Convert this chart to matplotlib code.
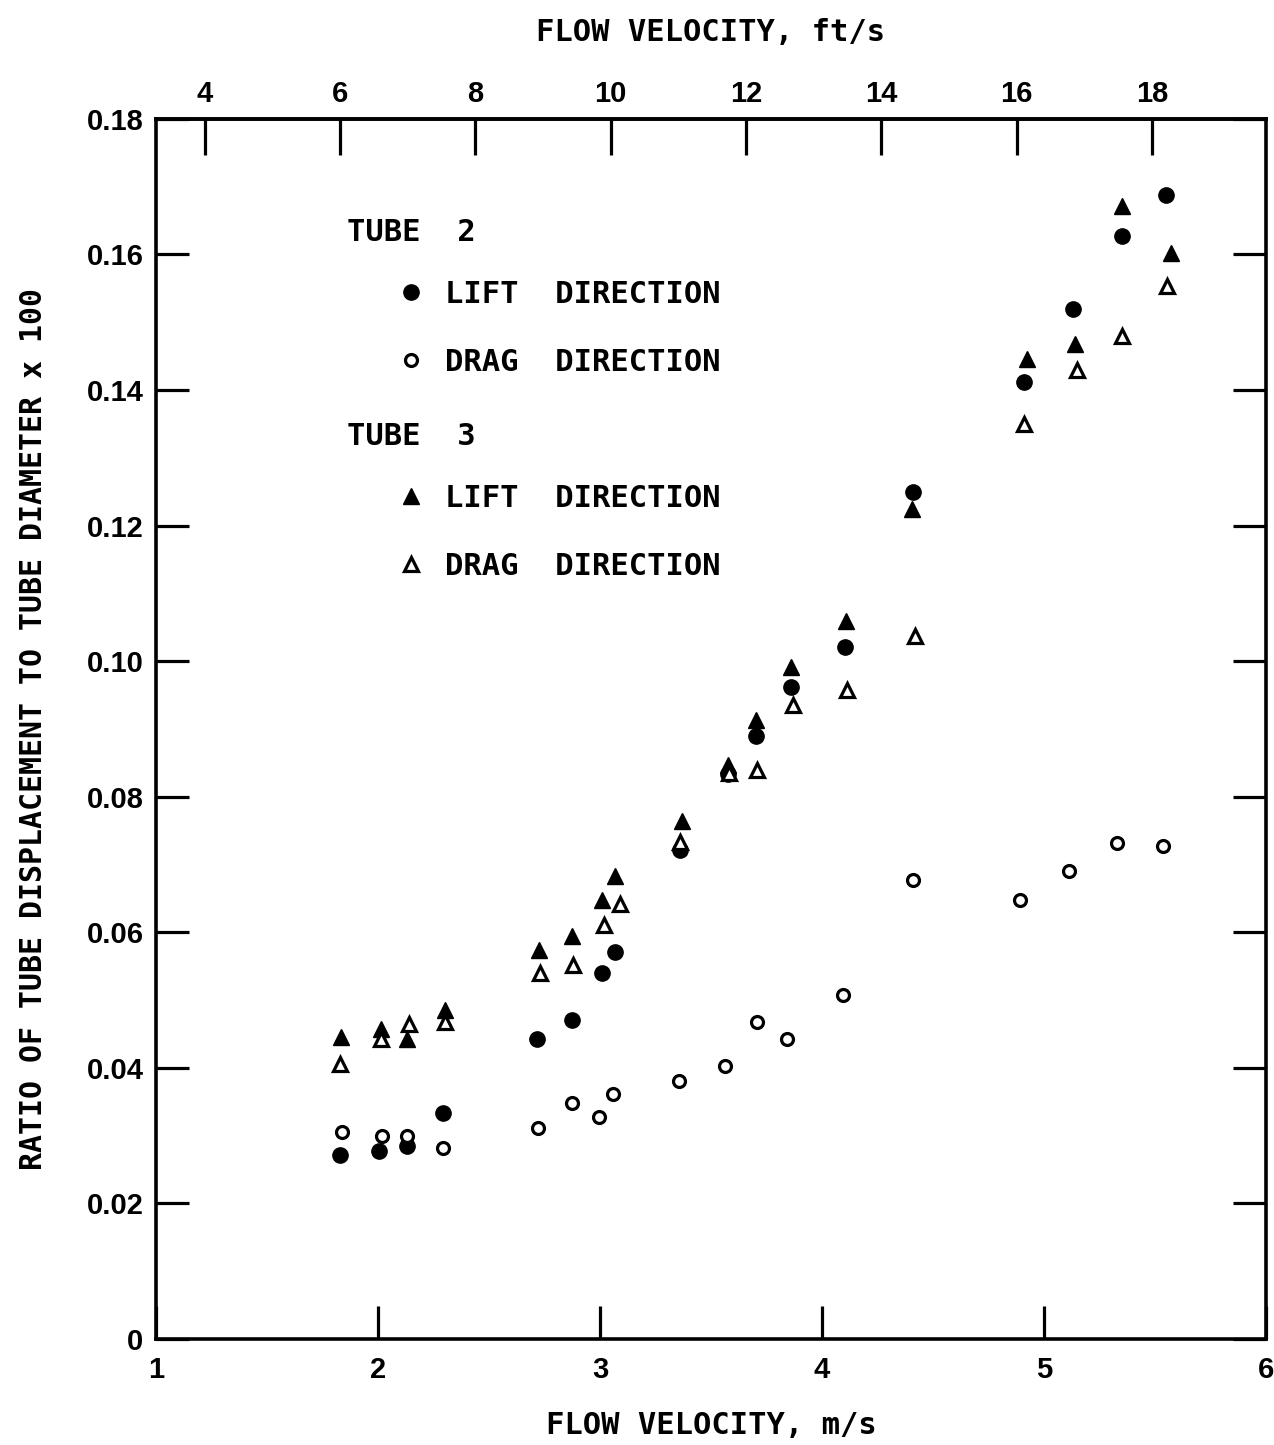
import matplotlib
matplotlib.use("Agg")
import matplotlib.pyplot as plt
from matplotlib.lines import Line2D

# Flow velocity (m/s) and displacement ratio for each tube / direction
tube2_lift_v = [1.830, 2.006, 2.133, 2.291, 2.715, 2.873, 3.008, 3.067, 3.360,
                3.577, 3.703, 3.861, 4.105, 4.412, 4.912, 5.129, 5.350, 5.549]
tube2_lift_r = [0.0272, 0.0278, 0.0284, 0.0334, 0.0443, 0.0470, 0.0540, 0.0571, 0.0722,
                0.0834, 0.0890, 0.0962, 0.1021, 0.1249, 0.1412, 0.1520, 0.1627, 0.1688]

tube2_drag_v = [1.839, 2.020, 2.133, 2.291, 2.719, 2.873, 2.995, 3.058, 3.356,
                3.563, 3.708, 3.843, 4.096, 4.412, 4.894, 5.111, 5.328, 5.535]
tube2_drag_r = [0.0306, 0.0300, 0.0300, 0.0281, 0.0311, 0.0348, 0.0328, 0.0361, 0.0381,
                0.0402, 0.0468, 0.0442, 0.0508, 0.0677, 0.0647, 0.0691, 0.0732, 0.0728]

tube3_lift_v = [1.835, 2.015, 2.133, 2.300, 2.724, 2.873, 3.008, 3.067, 3.369,
                3.577, 3.703, 3.861, 4.109, 4.407, 4.922, 5.138, 5.350, 5.571]
tube3_lift_r = [0.0446, 0.0458, 0.0443, 0.0485, 0.0574, 0.0594, 0.0647, 0.0683, 0.0764,
                0.0847, 0.0913, 0.0991, 0.1059, 0.1225, 0.1446, 0.1468, 0.1672, 0.1602]

tube3_drag_v = [1.830, 2.015, 2.142, 2.300, 2.728, 2.877, 3.017, 3.089, 3.360,
                3.581, 3.708, 3.870, 4.114, 4.421, 4.908, 5.147, 5.350, 5.553]
tube3_drag_r = [0.0405, 0.0443, 0.0464, 0.0468, 0.0540, 0.0552, 0.0610, 0.0641, 0.0733,
                0.0835, 0.0839, 0.0935, 0.0957, 0.1037, 0.1350, 0.1430, 0.1480, 0.1554]

x_ticks = [1, 2, 3, 4, 5, 6]
y_ticks = [0, 0.02, 0.04, 0.06, 0.08, 0.10, 0.12, 0.14, 0.16, 0.18]
y_tick_labels = ["0", "0.02", "0.04", "0.06", "0.08", "0.10", "0.12", "0.14", "0.16", "0.18"]
ft_ticks = [4, 6, 8, 10, 12, 14, 16, 18]

FT_PER_M = 3.28084

LETTER = ["DejaVu Sans Mono"]
DIGITS = ["Liberation Sans", "DejaVu Sans"]
DIGIT_SIZE = 21

fig = plt.figure(figsize=(12.74, 14.45), dpi=100)
ax = fig.add_axes([0.1224, 0.0734, 0.8713, 0.8443])

ms_fill = 11
ms_open = 8.6
ax.plot(tube2_lift_v, tube2_lift_r, ls="none", marker="o", ms=ms_fill,
        mfc="black", mec="black")
ax.plot(tube2_drag_v, tube2_drag_r, ls="none", marker="o", ms=ms_open,
        mfc="white", mec="black", mew=2.3)
ax.plot(tube3_lift_v, tube3_lift_r, ls="none", marker="^", ms=12,
        mfc="black", mec="black")
ax.plot(tube3_drag_v, tube3_drag_r, ls="none", marker="^", ms=9.5,
        mfc="white", mec="black", mew=2.3)

ax.set_xlim(1, 6)
ax.set_ylim(0, 0.18)
ax.set_xticks(x_ticks)
ax.set_yticks(y_ticks)
ax.set_yticklabels(y_tick_labels)

for s in ax.spines.values():
    s.set_linewidth(2.6)

ax.tick_params(axis="both", direction="in", length=24, width=2.3,
               top=False, right=True, labelright=False)
ax.tick_params(axis="x", pad=12)
ax.tick_params(axis="y", pad=9)
for lab in ax.get_xticklabels() + ax.get_yticklabels():
    lab.set_fontfamily(DIGITS)
    lab.set_fontweight("bold")
    lab.set_fontsize(DIGIT_SIZE)

# Upper axis: the same velocities in ft/s
sec = ax.secondary_xaxis("top", functions=(lambda m: m * FT_PER_M,
                                           lambda f: f / FT_PER_M))
sec.set_xticks(ft_ticks)
sec.tick_params(direction="in", length=26, width=2.3, pad=8)
for lab in sec.get_xticklabels():
    lab.set_fontfamily(DIGITS)
    lab.set_fontweight("bold")
    lab.set_fontsize(DIGIT_SIZE)
sec.spines["top"].set_linewidth(2.6)
sec.set_xlabel("FLOW VELOCITY, ft/s", family=LETTER, fontweight="bold",
               fontsize=22, labelpad=28)

ax.set_xlabel("FLOW VELOCITY, m/s", family=LETTER, fontweight="bold",
              fontsize=22, labelpad=20)
ax.set_ylabel("RATIO OF TUBE DISPLACEMENT TO TUBE DIAMETER x 100",
              family=LETTER, fontweight="bold", fontsize=21.5, labelpad=28)

# Key: tube headings with indented marker entries
key_font = {"family": LETTER, "weight": "bold", "size": 22}
ax.text(0.172, 0.9066, "TUBE  2", transform=ax.transAxes, ha="left",
        va="center", fontdict=key_font)
ax.text(0.172, 0.7393, "TUBE  3", transform=ax.transAxes, ha="left",
        va="center", fontdict=key_font)

h2 = [Line2D([], [], ls="none", marker="o", ms=ms_fill, mfc="black", mec="black"),
      Line2D([], [], ls="none", marker="o", ms=ms_open, mfc="white", mec="black", mew=2.3)]
h3 = [Line2D([], [], ls="none", marker="^", ms=12, mfc="black", mec="black"),
      Line2D([], [], ls="none", marker="^", ms=9.5, mfc="white", mec="black", mew=2.3)]

leg_kw = dict(loc="upper left", frameon=False, prop=key_font, borderpad=0,
              borderaxespad=0, handlelength=1.0, handletextpad=0.6,
              labelspacing=1.28, markerscale=1.0)
leg2 = ax.legend(h2, ["LIFT  DIRECTION", "DRAG  DIRECTION"],
                 bbox_to_anchor=(0.216, 0.868), **leg_kw)
ax.add_artist(leg2)
ax.legend(h3, ["LIFT  DIRECTION", "DRAG  DIRECTION"],
          bbox_to_anchor=(0.216, 0.701), **leg_kw)

fig.savefig("out.png", dpi=100, facecolor="white")
